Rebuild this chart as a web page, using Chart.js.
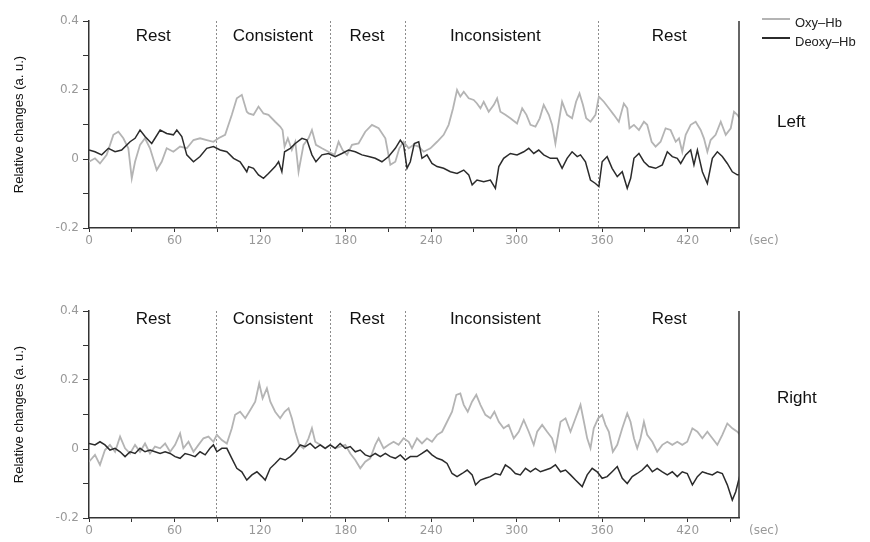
<!DOCTYPE html>
<html>
<head>
<meta charset="utf-8">
<script src="https://cdn.jsdelivr.net/npm/chart.js@4.4.1/dist/chart.umd.min.js"></script>
<style>
  body {
    margin: 0;
    width: 870px;
    height: 542px;
    overflow: hidden;
    background: #fff;
    position: relative;
    font-family: "Liberation Sans", Arial, sans-serif;
  }
  canvas { position: absolute; left: 0; }
  .side { position: absolute; left: 777px; font-size: 17px; color: #111; line-height: 20px; }
  .legend-row { position: absolute; left: 762px; height: 18px; font-size: 13px; line-height: 18px; color: #222; }
  .legend-row span { position: absolute; left: 0; top: 4px; width: 28px; height: 1.5px; }
  .legend-row b { position: absolute; left: 33px; top: 0; font-weight: normal; white-space: nowrap; }
</style>
</head>
<body>
<canvas id="left-chart" width="870" height="252" style="top:0"></canvas>
<canvas id="right-chart" width="870" height="252" style="top:290px"></canvas>

<div class="legend-row" style="top:14px"><span style="background:#b4b4b4"></span><b>Oxy–Hb</b></div>
<div class="legend-row" style="top:33px"><span style="background:#2b2b2b"></span><b>Deoxy–Hb</b></div>
<div class="side" style="top:112px">Left</div>
<div class="side" style="top:388px">Right</div>

<script>
// block boundaries (sec) and block names
const blockEdges = [89, 169, 222, 357];
const blockLabels = ["Rest", "Consistent", "Rest", "Inconsistent", "Rest"];
const blockLabelSec = [45, 129, 195, 285, 407];

// [sec, relative change]
const leftOxy = [
  [0, -0.008], [4.2, 0.002], [7.7, -0.013], [12.4, 0.012], [17.1, 0.07], [20.6, 0.079], [24.1, 0.06], [27.6, 0.031],
  [30, -0.056], [32.3, -0.008], [35.8, 0.041], [39.3, 0.06], [42.8, 0.031], [47.5, -0.032], [51, -0.008], [54.5, 0.031],
  [59.2, 0.021], [63.9, 0.036], [68.6, 0.031], [73.3, 0.055], [77.9, 0.06], [82.6, 0.055], [87.3, 0.05], [90.8, 0.06],
  [95.5, 0.07], [100.2, 0.128], [103.7, 0.176], [107.2, 0.186], [110.7, 0.137],
  [112, 0.132], [115.4, 0.128], [118.9, 0.152], [122.4, 0.132], [125.9, 0.128], [130.6, 0.108], [134.1, 0.094],
  [135.8, 0.084], [137.2, 0.036], [139.5, 0.06], [142.3, 0.026], [144.7, 0.05], [147, -0.037], [150.5, 0.041],
  [154, 0.06], [156.4, 0.084], [159.2, 0.041], [163.4, 0.031], [168, 0.021], [172.3, 0.012], [175.1, 0.05],
  [177.9, 0.026], [181, 0.012], [184.5, 0.041], [189.1, 0.045], [193.8, 0.079], [198.5, 0.099], [203.2, 0.089],
  [207.9, 0.06], [211.4, -0.017], [214.9, -0.008], [217.7, 0.031], [220.7, 0.05], [224.3, 0.031],
  [227.8, 0.041], [231.3, 0.036], [234.8, 0.021], [239.5, 0.031], [244.2, 0.05], [248.8, 0.07], [252.3, 0.099],
  [255.4, 0.147], [258.2, 0.2], [260.5, 0.181], [262.9, 0.195], [266.4, 0.176], [269.9, 0.171], [272.2, 0.161],
  [274.6, 0.147], [276.9, 0.166], [280.4, 0.137], [284, 0.157], [286.3, 0.176], [288.6, 0.137], [292.1, 0.128],
  [295.6, 0.118], [300.3, 0.103], [303.9, 0.147], [306.9, 0.128], [309.7, 0.099], [313.2, 0.094], [316.2, 0.118],
  [319, 0.157], [322.6, 0.128], [324.9, 0.099], [327.2, 0.045], [329.6, 0.108], [331.9, 0.166], [335.4, 0.128],
  [338.9, 0.118], [341.7, 0.166],
  [344.1, 0.19], [346.5, 0.157], [348.8, 0.118], [351.8, 0.108], [355.3, 0.128], [357.7, 0.181], [361.2, 0.166],
  [364.7, 0.147], [368.2, 0.128], [371.7, 0.108], [375.2, 0.161], [377.6, 0.147], [379.2, 0.089], [382.3, 0.099],
  [385.8, 0.084], [389.3, 0.108], [391.6, 0.099], [394.7, 0.05], [397.5, 0.036], [401, 0.05], [404.5, 0.089],
  [408, 0.084], [411.6, 0.05], [413.9, 0.06], [416.2, 0.021], [418.6, 0.07], [422.1, 0.099], [425.6, 0.108],
  [429.1, 0.084], [431.4, 0.06], [433.8, 0.021], [436.1, 0.055], [439.6, 0.07], [443.2, 0.108], [446.7, 0.07],
  [450.2, 0.089], [452.5, 0.137], [454.8, 0.128], [456.5, 0.118]
];

const leftDeoxy = [
  [0, 0.026], [4.2, 0.021], [8.9, 0.012], [13.6, 0.031], [18.3, 0.021], [22.9, 0.026], [28.8, 0.05], [32.3, 0.06],
  [35.8, 0.084], [39.3, 0.065], [44, 0.045], [49.9, 0.084], [54.5, 0.074], [59.2, 0.07], [61.6, 0.084], [65.1, 0.065],
  [68.6, 0.012], [73.3, -0.008], [77.9, 0.007], [82.6, 0.031], [87.3, 0.036], [92, 0.026], [96.7, 0.021],
  [101.4, 0.002], [106, -0.008], [110.7, -0.037],
  [112, -0.022], [115.4, -0.027], [118.9, -0.046], [122.4, -0.056], [125.9, -0.042], [130.6, -0.022], [133, -0.008],
  [135.3, -0.037], [137.2, 0.021], [141.2, 0.031], [144.7, 0.045], [149.4, 0.06], [152.9, 0.055], [156.4, 0.012],
  [159.2, -0.008], [163.4, 0.012], [168, 0.016], [172.7, 0.007], [177.4, 0.016], [182.1, 0.026], [186.8, 0.021],
  [191.5, 0.012], [196.2, 0.007], [200.8, 0.002], [205.5, -0.008], [210.2, 0.007], [214.9, 0.031], [218.4, 0.055],
  [220.7, 0.041], [223.1, -0.027], [225.4, -0.008],
  [228.2, 0.045], [231.3, 0.05], [233.6, 0.002], [237.1, 0.012], [240.6, -0.013], [244.2, -0.022], [248.8, -0.027],
  [253.5, -0.037], [258.2, -0.042], [262.9, -0.032], [266.4, -0.046], [268.8, -0.075], [272.2, -0.061],
  [276.9, -0.066], [281.6, -0.061], [285.1, -0.085], [287.5, -0.022], [290.9, 0.002], [295.6, 0.016], [300.3, 0.012],
  [305, 0.021], [308.5, 0.031], [312, 0.016], [315.5, 0.026], [319, 0.012], [323.7, 0.002], [328.4, 0.002],
  [331.9, -0.027], [335.4, 0.002], [338.9, 0.021], [342.5, 0.007],
  [344.8, 0.012], [348.3, -0.008], [351.8, -0.061], [355.3, -0.071], [357.7, -0.08], [360, -0.008], [363.5, 0.007],
  [367, -0.027], [370.6, -0.051], [374.1, -0.037], [377.6, -0.085], [380, -0.056], [382.3, 0.002], [385.8, 0.016],
  [389.3, -0.008], [392.8, -0.022], [397.5, -0.027], [402.2, -0.017], [405.7, 0.021], [409.2, 0.007], [412.7, 0.002],
  [415.1, -0.013], [418.6, 0.012], [422.1, 0.026], [424.4, -0.017], [426.8, 0.026], [430.3, -0.037], [433.8, -0.071],
  [437.3, 0.002], [440.8, 0.021], [444.3, 0.007], [447.8, -0.013], [451.3, -0.037], [454.8, -0.046], [456.7, -0.046]
];

const rightOxy = [
  [0, -0.037], [4.2, -0.017], [7.7, -0.046], [11.2, -0.003], [14.7, 0.012], [18.3, -0.008], [21.8, 0.036],
  [25.3, 0.002], [28.8, -0.013], [32.3, 0.012], [35.8, -0.008], [39.3, 0.016], [42.8, -0.013], [46.3, 0.007],
  [49.9, 0.002], [53.4, 0.016], [56.9, -0.008], [60.4, 0.012], [63.9, 0.045], [66.2, 0.002], [69.8, 0.021],
  [73.3, -0.008], [76.8, 0.012], [80.3, 0.031], [83.8, 0.036], [87.3, 0.021], [89.7, 0.041], [93.2, 0.026],
  [96.7, 0.016], [100.2, 0.06], [102.5, 0.099], [106, 0.108], [109.6, 0.089],
  [112, 0.105], [116.6, 0.137], [119.4, 0.19], [121.8, 0.147], [124.8, 0.176], [127.2, 0.137], [130.6, 0.108],
  [134.1, 0.089], [137.2, 0.108], [140, 0.118], [142.3, 0.089], [144.7, 0.05], [147.5, 0.012], [150.5, 0.002],
  [154, 0.031], [156.4, 0.06], [158.7, 0.021], [162.2, 0.012], [165.7, 0.002], [169.2, 0.012], [172.7, 0.002],
  [176.2, 0.007], [179.8, 0.012], [183.3, -0.013], [186.8, -0.032], [190.3, -0.056], [193.8, -0.037],
  [197.3, -0.027], [200.8, 0.012], [203.2, 0.031], [206.7, 0.002], [210.2, 0.012], [213.7, 0.021], [217.2, 0.012],
  [220.7, 0.031], [224.3, 0.021],
  [226.6, 0.002], [230.1, 0.031], [233.6, 0.016], [237.1, 0.031], [240.6, 0.021], [244.2, 0.041], [247.7, 0.05],
  [251.2, 0.079], [254.7, 0.108], [257.7, 0.157], [260.5, 0.161], [262.9, 0.128], [265.7, 0.108], [268.7, 0.137],
  [271.7, 0.157], [274.6, 0.128], [278.1, 0.099], [281.6, 0.089], [284.4, 0.108], [287.5, 0.079], [290.9, 0.06],
  [294.4, 0.07], [298, 0.031], [301.5, 0.05], [305, 0.084], [308.5, 0.05], [312, 0.012], [314.4, 0.05],
  [317.9, 0.07], [321.4, 0.05], [324.9, 0.031], [327.2, -0.003], [330.8, 0.079], [334.3, 0.089], [337.8, 0.05],
  [341.3, 0.089],
  [344.8, 0.128], [347.2, 0.079], [349.5, 0.031], [351.8, 0.002], [354.1, 0.06], [357.2, 0.089], [360, 0.099],
  [362.3, 0.07], [364.7, 0.05], [367.5, -0.008], [370.6, 0.012], [374.1, 0.06], [377.6, 0.103], [379.9, 0.079],
  [382.3, 0.031], [384.6, 0.002], [386.9, 0.031], [389.3, 0.079], [391.6, 0.041], [395.2, 0.021], [398.6, -0.008],
  [402.2, 0.012], [405.7, 0.021], [409.2, 0.012], [412.7, 0.021], [416.2, 0.012], [419.7, 0.021], [423.3, 0.06],
  [426.8, 0.05], [430.3, 0.031], [433.8, 0.05], [437.3, 0.031], [440.8, 0.012], [444.3, 0.041], [447.8, 0.074],
  [451.3, 0.06], [454.8, 0.05], [456.7, 0.041]
];

const rightDeoxy = [
  [0, 0.016], [4.2, 0.012], [7.7, 0.021], [11.2, 0.012], [14.7, -0.003], [18.3, 0.002], [21.8, -0.008],
  [25.3, -0.022], [28.8, -0.008], [32.3, -0.013], [35.8, 0.002], [39.3, -0.008], [42.8, -0.003], [46.3, -0.008],
  [49.9, -0.013], [53.4, -0.008], [56.9, -0.013], [60.4, -0.022], [63.9, -0.027], [67.4, -0.013], [70.9, -0.017],
  [74.4, -0.022], [77.9, -0.008], [81.5, -0.017], [84.9, 0.002], [87.3, 0.012], [89.7, -0.008], [93.2, 0.002],
  [96.7, 0.002], [100.2, -0.027], [103.7, -0.056], [107.2, -0.066], [110.7, -0.09],
  [114.3, -0.075], [117.8, -0.066], [121.3, -0.08], [123.6, -0.09], [127.1, -0.056], [130.6, -0.042],
  [134.1, -0.027], [137.6, -0.032], [141.2, -0.022], [144.7, -0.008], [148.2, 0.012], [151.7, 0.007],
  [155.2, 0.016], [158.7, 0.002], [162.2, 0.012], [165.7, 0.002], [169.2, 0.012], [172.7, 0.002], [176.2, 0.016],
  [179.8, 0.002], [183.3, 0.007], [186.8, -0.008], [190.3, -0.003], [193.8, -0.017], [197.3, -0.022],
  [200.8, -0.013], [204.4, -0.022], [207.9, -0.013], [211.4, -0.022], [214.9, -0.027], [218.4, -0.017],
  [221.9, -0.032], [225.4, -0.022],
  [230.1, -0.022], [233.6, -0.013], [237.1, -0.003], [240.6, -0.017], [244.2, -0.027], [247.7, -0.032],
  [251.2, -0.042], [254.7, -0.071], [258.2, -0.08], [261.8, -0.071], [265.3, -0.061], [268.8, -0.075],
  [271.2, -0.104], [274.6, -0.09], [278.1, -0.085], [281.6, -0.08], [285.1, -0.071], [288.6, -0.075],
  [292.1, -0.046], [295.6, -0.056], [299.1, -0.071], [302.6, -0.075], [306.2, -0.056], [309.7, -0.066],
  [313.2, -0.056], [316.7, -0.066], [320.2, -0.061], [323.7, -0.056], [327.2, -0.046], [330.8, -0.066],
  [334.3, -0.061], [337.8, -0.075], [341.3, -0.09],
  [346, -0.109], [349.5, -0.075], [353, -0.056], [356.5, -0.066], [360, -0.085], [363.5, -0.08], [367, -0.066],
  [370.6, -0.051], [374.1, -0.085], [377.6, -0.1], [381.1, -0.08], [384.6, -0.071], [388.1, -0.061],
  [391.6, -0.046], [395.2, -0.066], [398.6, -0.056], [402.2, -0.066], [405.7, -0.075], [409.2, -0.066],
  [412.7, -0.08], [416.2, -0.066], [419.7, -0.071], [423.3, -0.104], [426.8, -0.08], [430.3, -0.066],
  [433.8, -0.071], [437.3, -0.075], [440.8, -0.066], [444.3, -0.071], [447.8, -0.104], [451.3, -0.148],
  [453.7, -0.124], [456.7, -0.075]
];

const OXY_COLOR = "#b4b4b4";
const DEOXY_COLOR = "#2b2b2b";
const AXIS_COLOR = "#333333";
const TICK_COLOR = "#999999";

// dashed block lines, block names, right frame and the "(sec)" unit
const blocksPlugin = {
  id: "blocks",
  beforeDatasetsDraw(chart) {
    const { ctx, chartArea, scales } = chart;
    ctx.save();
    ctx.strokeStyle = "#8c8c8c";
    ctx.lineWidth = 1;
    ctx.setLineDash([2, 2]);
    blockEdges.forEach((sec) => {
      const x = Math.round(scales.x.getPixelForValue(sec)) + 0.5;
      ctx.beginPath();
      ctx.moveTo(x, chartArea.top);
      ctx.lineTo(x, chartArea.bottom);
      ctx.stroke();
    });
    ctx.restore();
  },
  afterDraw(chart, args, opts) {
    const { ctx, chartArea, scales } = chart;
    ctx.save();
    ctx.strokeStyle = AXIS_COLOR;
    ctx.lineWidth = 1.5;
    ctx.beginPath();
    ctx.moveTo(chartArea.right, chartArea.top);
    ctx.lineTo(chartArea.right, chartArea.bottom);
    ctx.stroke();

    ctx.fillStyle = "#111";
    ctx.font = '17px "Liberation Sans", Arial, sans-serif';
    ctx.textAlign = "center";
    ctx.textBaseline = "middle";
    blockLabels.forEach((label, i) => {
      ctx.fillText(label, scales.x.getPixelForValue(blockLabelSec[i]), chartArea.top + opts.labelOffset);
    });

    ctx.fillStyle = TICK_COLOR;
    ctx.font = '12px "DejaVu Sans", sans-serif';
    ctx.textAlign = "left";
    ctx.fillText("(sec)", chartArea.right + 10, chartArea.bottom + 13);
    ctx.restore();
  },
};

function createPanel(canvasId, oxy, deoxy, labelOffset) {
  const ctx = document.getElementById(canvasId);

  return new Chart(ctx, {
    type: "line",
    data: {
      datasets: [
        {
          label: "Deoxy–Hb",
          data: deoxy.map(([x, y]) => ({ x, y })),
          borderColor: DEOXY_COLOR,
          borderWidth: 1.5,
          pointRadius: 0,
          tension: 0,
        },
        {
          label: "Oxy–Hb",
          data: oxy.map(([x, y]) => ({ x, y })),
          borderColor: OXY_COLOR,
          borderWidth: 1.8,
          pointRadius: 0,
          tension: 0,
        },
      ],
    },
    options: {
      responsive: false,
      animation: false,
      layout: {
        padding: { top: 21, right: 131, bottom: 0, left: 0 },
      },
      plugins: {
        legend: { display: false },
        tooltip: { enabled: false },
        blocks: { labelOffset: labelOffset },
      },
      scales: {
        x: {
          type: "linear",
          min: 0,
          max: 456,
          afterFit: (scale) => {
            scale.height = 24;
          },
          border: { color: AXIS_COLOR, width: 1.5 },
          grid: {
            drawOnChartArea: false,
            tickLength: 4,
            tickColor: AXIS_COLOR,
          },
          ticks: {
            stepSize: 30,
            maxTicksLimit: 30,
            includeBounds: false,
            maxRotation: 0,
            padding: 2,
            color: TICK_COLOR,
            font: { family: '"DejaVu Sans", sans-serif', size: 12 },
            callback: (v) => (v % 60 === 0 ? String(v) : ""),
          },
        },
        y: {
          min: -0.2,
          max: 0.4,
          afterFit: (scale) => {
            scale.width = 89;
          },
          border: { color: AXIS_COLOR, width: 1.5 },
          grid: {
            drawOnChartArea: false,
            tickLength: 6,
            tickColor: AXIS_COLOR,
          },
          ticks: {
            stepSize: 0.1,
            maxTicksLimit: 30,
            padding: 4,
            color: TICK_COLOR,
            font: { family: '"DejaVu Sans", sans-serif', size: 12 },
            callback: (v) => (Math.round(v * 10) % 2 === 0 ? String(Math.round(v * 10) / 10) : ""),
          },
          title: {
            display: true,
            text: "Relative changes (a. u.)",
            color: "#111",
            font: { family: '"Liberation Sans", Arial, sans-serif', size: 13 },
            padding: { top: 12, bottom: 0 },
          },
        },
      },
    },
    plugins: [blocksPlugin],
  });
}

createPanel("left-chart", leftOxy, leftDeoxy, 15);
createPanel("right-chart", rightOxy, rightDeoxy, 8);
</script>
</body>
</html>
